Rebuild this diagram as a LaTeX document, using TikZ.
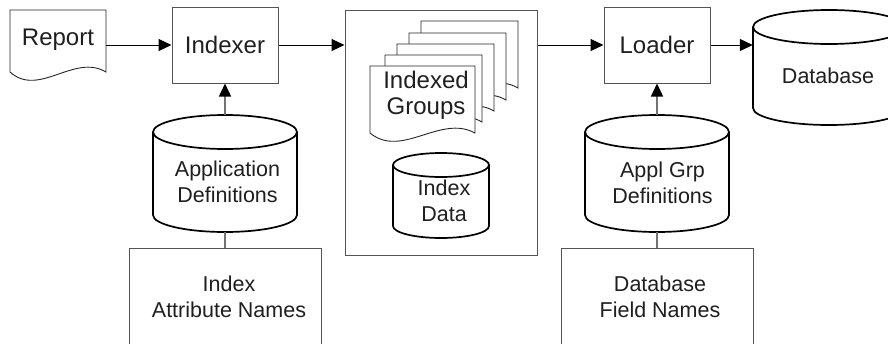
\documentclass[tikz,border=0pt]{standalone}
\usepackage{fontspec}
\setmainfont{Liberation Sans}
\usetikzlibrary{arrows.meta,calc}
\definecolor{boxgray}{gray}{0.33}
\definecolor{linkgray}{gray}{0.45}
\newcommand\docshape[4]{%
  \draw[docline] (#1,#2) -- ({#1+#3},#2) -- ({#1+#3},{#2+#4})
    .. controls ({#1+0.67*#3},{#2+#4-19}) and ({#1+0.3*#3},{#2+#4+26}) .. (#1,{#2+#4}) -- cycle;}
\newcommand\drawcyl[5]{% cx, top-centre y, bottom-centre y, rx, ry
  \draw[cylline] ({#1-#4},#2) -- ({#1-#4},#3)
    arc[start angle=180,end angle=360,x radius=#4pt,y radius=#5pt] -- ({#1+#4},#2);
  \draw[cylline] (#1,#2) ellipse [x radius=#4pt,y radius=#5pt];}
\begin{document}
\begin{tikzpicture}[x=1pt,y=-1pt,
  box/.style={draw=boxgray,line width=1pt,fill=white,inner sep=0pt},
  area/.style={inner sep=0pt,draw=none},
  docline/.style={draw=black!85,line width=0.9pt,fill=white},
  cylline/.style={draw=black,line width=1.7pt,fill=white},
  big/.style={font=\fontsize{24}{26}\selectfont,text=black!88},
  small/.style={font=\fontsize{21.5}{25.5}\selectfont,text=black!88},
  flow/.style={draw=black,line width=1pt,-{Triangle[length=13pt,width=12pt]}},
  up/.style={draw=linkgray,line width=1.4pt,-{Triangle[length=13pt,width=12pt,color=black]}},
  link/.style={draw=linkgray,line width=1.4pt}]
\useasboundingbox (0,0) rectangle (888,343);
\clip (0,0) rectangle (888,343);

% Report document
\docshape{10}{10}{96}{62}
\node[area,minimum width=96pt,minimum height=70pt] (report) at (58,45) {};
\node[big,anchor=base] (reporttxt) at (58,45) {Report};

% Indexer and Loader
\node[box,big,minimum width=106pt,minimum height=76pt] (indexer) at (225,45) {Indexer};
\node[box,big,minimum width=106pt,minimum height=76pt] (loader) at (657,45) {Loader};

% middle box
\node[box,minimum width=192pt,minimum height=245pt] (mid) at (441,132.5) {};
\docshape{421}{21}{97}{67}
\docshape{409}{33}{97}{67}
\docshape{397}{44}{97}{67}
\docshape{385}{55}{97}{67}
\docshape{370}{66}{105}{67}
\node[big,anchor=base,align=center] (grptxt) at (426,114) {Indexed\\Groups};
\drawcyl{441}{165}{226}{48}{12}
\node[area,minimum width=96pt,minimum height=85pt] (idxdata) at (441,195.5) {};
\node[small,anchor=base,align=center,font=\fontsize{21.5}{26}\selectfont] (idxtxt) at (444,221) {Index\\Data};

% Database
\drawcyl{829}{27}{108}{76}{17}
\node[area,minimum width=152pt,minimum height=115pt] (database) at (829,67.5) {};
\node[small,anchor=base] (dbtxt) at (828,83) {Database};

% definition cylinders
\drawcyl{225}{132}{215}{72}{17}
\node[area,minimum width=144pt,minimum height=117pt] (appdef) at (225,173.5) {};
\node[small,anchor=base,align=center] (apptxt) at (227.5,202) {Application\\Definitions};
\drawcyl{657}{132}{215}{72}{17}
\node[area,minimum width=144pt,minimum height=117pt] (agdef) at (657,173.5) {};
\node[small,anchor=base,align=center] (agtxt) at (662.5,203) {Appl Grp\\Definitions};

% bottom boxes
\node[box,minimum width=192pt,minimum height=112pt] (ian) at (225,304) {};
\node[small,anchor=base,align=center] (iantxt) at (229,317) {Index\\Attribute Names};
\node[box,minimum width=192pt,minimum height=112pt] (dfn) at (657,304) {};
\node[small,anchor=base,align=center] (dfntxt) at (660,317) {Database\\Field Names};

% connectors
\draw[flow] (report.east) -- (indexer.west);
\draw[flow] (indexer.east) -- (indexer.east -| mid.west);
\draw[flow] (loader.west -| mid.east) -- (loader.west);
\draw[flow] (loader.east) -- (loader.east -| database.west);
\draw[up] (appdef.north) -- (indexer.south);
\draw[up] (agdef.north) -- (loader.south);
\draw[link] (appdef.south) -- (ian.north);
\draw[link] (agdef.south) -- (dfn.north);
\end{tikzpicture}
\end{document}
